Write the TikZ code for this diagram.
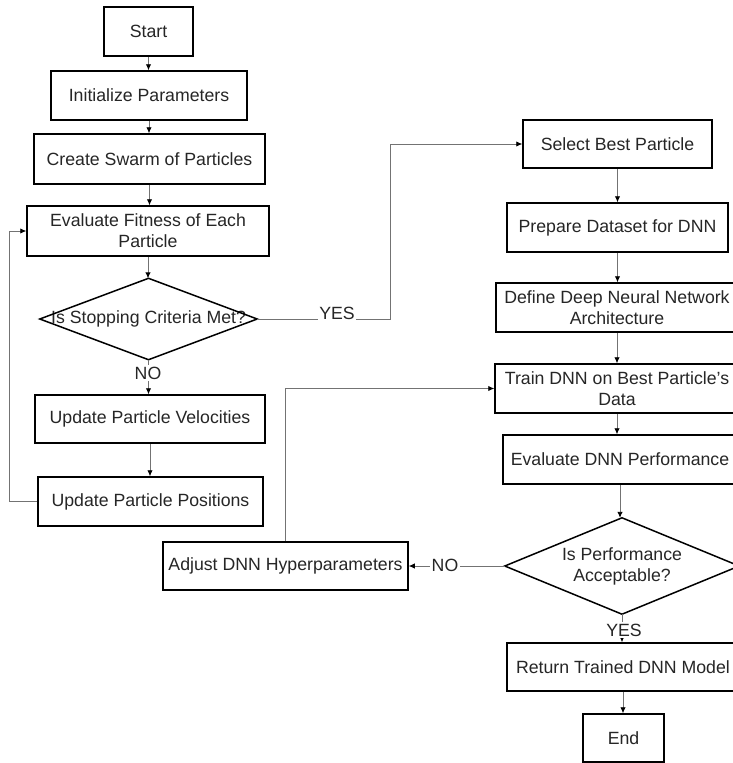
\documentclass[tikz,border=0pt]{standalone}
\usepackage{fontspec}
\setmainfont{Liberation Sans}
\usetikzlibrary{arrows.meta, positioning, calc}

\tikzset{
  stepbox/.style={draw=black, line width=1.5pt, fill=white, align=center, inner sep=0pt, text=black!85},
  decbox/.style={inner sep=0pt, align=center, text=black!85},
  decline/.style={draw=black, line width=1.5pt},
  flow/.style={draw=black!55, line width=0.9pt, -{Latex[length=6pt,width=5.5pt,color=black]}},
  lbl/.style={fill=white, inner sep=1.5pt, text=black!85}
}

\begin{document}
\begin{tikzpicture}[x=1pt, y=-1pt, font=\fontsize{17.7}{21}\selectfont]
\useasboundingbox (0,0) rectangle (732,763);
\fill[white] (0,0) rectangle (732,763);

% PSO side
\node[stepbox, minimum width=89pt, minimum height=49pt] (start) at (148.5,31.5) {Start};
\node[stepbox, minimum width=196pt, minimum height=49pt] (init) at (149,95.5) {Initialize Parameters};
\node[stepbox, minimum width=231pt, minimum height=50pt] (swarm) at (149.5,159) {Create Swarm of Particles};
\node[stepbox, minimum width=242pt, minimum height=50pt] (fitness) at (148,231) {Evaluate Fitness of Each\\Particle};
\node[decbox, minimum width=217pt, minimum height=81pt] (stop) at (148.5,319) {Is Stopping Criteria Met?};
\draw[decline] (stop.north) -- (stop.east) -- (stop.south) -- (stop.west) -- cycle;
\node[stepbox, minimum width=230pt, minimum height=48pt] (velo) at (150,419) {Update Particle Velocities};
\node[stepbox, minimum width=225pt, minimum height=49pt] (pos) at (150.5,501.5) {Update Particle Positions};

% DNN side
\node[stepbox, minimum width=189pt, minimum height=48pt] (select) at (617.5,144) {Select Best Particle};
\node[stepbox, minimum width=221pt, minimum height=49pt] (prep) at (617.5,227.5) {Prepare Dataset for DNN};
\node[stepbox, minimum width=242pt, minimum height=49pt] (define) at (617,307.5) {Define Deep Neural Network\\Architecture};
\node[stepbox, minimum width=244pt, minimum height=49pt] (train) at (617,388.5) {Train DNN on Best Particle's\\Data};
\node[stepbox, minimum width=234pt, minimum height=49pt] (evaldnn) at (620,459.5) {Evaluate DNN Performance};
\node[decbox, minimum width=234pt, minimum height=96pt] (perf) at (622,566) {Is Performance\\Acceptable?};
\draw[decline] (perf.north) -- (perf.east) -- (perf.south) -- (perf.west) -- cycle;
\node[stepbox, minimum width=245pt, minimum height=48pt] (adjust) at (285.5,566) {Adjust DNN Hyperparameters};
\node[stepbox, minimum width=232pt, minimum height=48pt] (ret) at (623,667) {Return Trained DNN Model};
\node[stepbox, minimum width=81pt, minimum height=48pt] (end) at (623.5,738) {End};

\coordinate (loopx) at (9,0);
\coordinate (yesx) at (390,0);

% connectors
\draw[flow] (start.south) -- (start.south |- init.north);
\draw[flow] (init.south) -- (init.south |- swarm.north);
\draw[flow] (swarm.south) -- (swarm.south |- fitness.north);
\draw[flow] (fitness.south) -- (fitness.south |- stop.north);
\draw[flow] (stop.south) -- (stop.south |- velo.north);
\draw[flow] (velo.south) -- (velo.south |- pos.north);
\draw[flow] (pos.west) -- (pos.west -| loopx) |- (fitness.west);
\draw[flow] (stop.east) -- (stop.east -| yesx) |- (select.west);

\draw[flow] (select.south) -- (select.south |- prep.north);
\draw[flow] (prep.south) -- (prep.south |- define.north);
\draw[flow] (define.south) -- (define.south |- train.north);
\draw[flow] (train.south) -- (train.south |- evaldnn.north);
\draw[flow] (evaldnn.south) -- (evaldnn.south |- perf.north);
\draw[flow] (perf.west) -- (adjust.east);
\draw[flow] (adjust.north) |- (train.west);
\draw[flow] (perf.south) -- (perf.south |- ret.north);
\draw[flow] (ret.south) -- (ret.south |- end.north);

% branch labels
\node[lbl] (yes1) at (337,313) {YES};
\node[lbl] (no1) at (148,373) {NO};
\node[lbl] (no2) at (445,565) {NO};
\node[lbl] (yes2) at (624,630) {YES};
\end{tikzpicture}
\end{document}
